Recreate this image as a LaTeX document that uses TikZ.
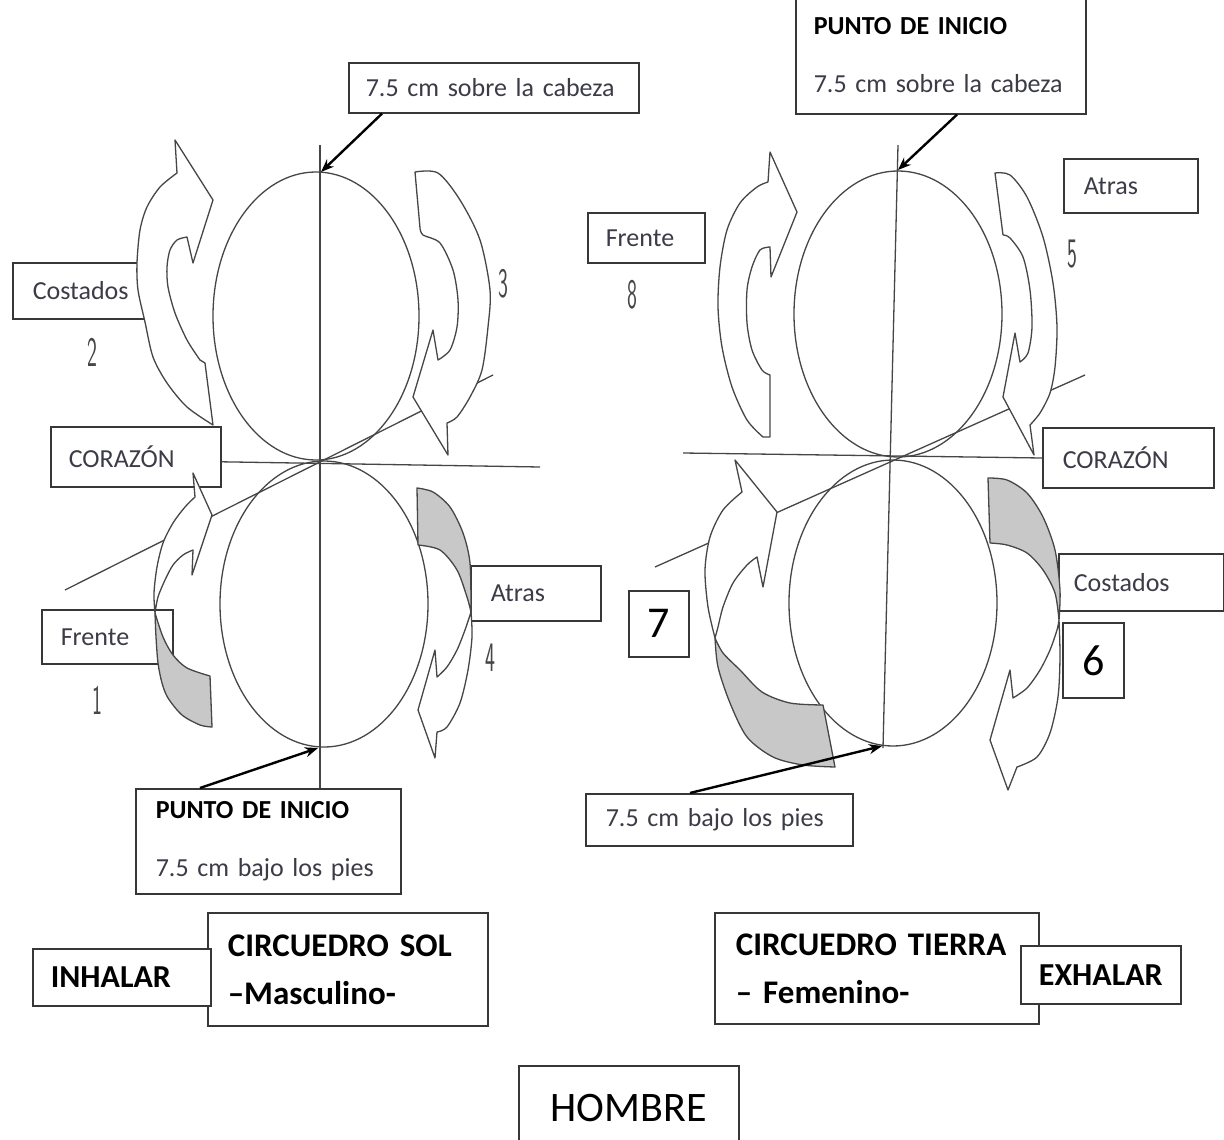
\documentclass[tikz,border=0pt]{standalone}
\usepackage{fontspec}
\usepackage{graphicx}
\setmainfont{Carlito}
\usetikzlibrary{arrows.meta}
\definecolor{linec}{RGB}{70,70,70}
\definecolor{boxc}{RGB}{55,55,55}
\definecolor{txtc}{RGB}{60,60,72}
\definecolor{shade}{RGB}{200,200,200}
\newcommand\fntA{\fontsize{26}{30}\selectfont}
\newcommand\fntB{\bfseries\fontsize{33}{42}\selectfont}
\newcommand\fntC{\fontsize{44}{48}\selectfont}
\newcommand\cdig[1]{\scalebox{0.5}[1]{\sffamily\fontsize{42}{42}\selectfont #1}}
\tikzset{
  lbl/.style={draw=boxc, line width=1.6pt, fill=white, inner sep=0pt, anchor=north west, text=txtc, font=\fntA},
  lblL/.style={lbl, align=left, inner xsep=#1, inner ysep=0pt},
  ribbon/.style={draw=linec, line width=1.3pt, fill=white, line join=round},
  ribbongray/.style={ribbon, fill=shade},
  guide/.style={draw=linec, line width=1.3pt},
  ptr/.style={draw=black, line width=2.4pt, -{Stealth[length=13pt,width=10pt]}},
  digit/.style={text=linec, inner sep=0pt},
}
\begin{document}
\begin{tikzpicture}[x=1pt,y=-1pt]
\useasboundingbox[fill=white] (0,0) rectangle (1224,1140);

% ---------------- label boxes, left figure ----------------
\node[lblL=17pt, text width=256pt, minimum height=50pt] (topL) at (348,62) {7.5 cm sobre la cabeza};
\node[lblL=20pt, text width=93pt, minimum height=56pt] (costL) at (12,262) {Costados};
\node[lblL=18pt, text width=134pt, minimum height=60pt] (corL) at (50,426) {CORAZÓN};
\node[lblL=19pt, text width=93pt, minimum height=54pt] (frenL) at (41,609) {Frente};
\node[lblL=20pt, text width=90pt, minimum height=55pt] (atrL) at (470,565) {Atras};
\node[lblL=20pt, text width=225pt, minimum height=105pt] (startL) at (135,788)
  {\textbf{\color{black}PUNTO DE INICIO}\\[28pt]7.5 cm bajo los pies};
\node[lblL=20pt, text width=240pt, minimum height=113pt, text=black, font=\fntB] (solL) at (207,912)
  {CIRCUEDRO SOL\\[6pt]–Masculino-};
\node[lblL=18pt, text width=142pt, minimum height=57pt, text=black, font=\bfseries\fontsize{32}{36}\selectfont] (inh) at (32,948) {INHALAR};

% ---------------- label boxes, right figure ----------------
\node[lblL=18pt, text width=254pt, minimum height=117pt] (startR) at (795,-4)
  {\textbf{\color{black}PUNTO DE INICIO}\\[28pt]7.5 cm sobre la cabeza};
\node[lblL=20pt, text width=94pt, minimum height=54pt] (atrR) at (1063,158) {Atras};
\node[lblL=18pt, text width=81pt, minimum height=50pt] (frenR) at (587,212) {Frente};
\node[lblL=20pt, text width=131pt, minimum height=60pt] (corR) at (1042,427) {CORAZÓN};
\node[lblL=15pt, text width=135pt, minimum height=57pt] (costR) at (1058,553) {Costados};
\node[lbl, minimum width=61pt, minimum height=75pt, text=black, font=\fntC] (six) at (1062,622) {6};
\node[lbl, minimum width=60pt, minimum height=66pt, text=black, font=\fntC] (seven) at (628,590) {7};
\node[lblL=20pt, text width=227pt, minimum height=52pt] (botR) at (585,793) {7.5 cm bajo los pies};
\node[lblL=21pt, text width=282pt, minimum height=111pt, text=black, font=\fntB] (tierra) at (714,912)
  {CIRCUEDRO TIERRA\\[6pt]– Femenino-};
\node[lbl, minimum width=160pt, minimum height=58pt, text=black, font=\bfseries\fontsize{32}{36}\selectfont] (exh) at (1020,945) {EXHALAR};
\node[lbl, minimum width=220pt, minimum height=84pt, text=black, font=\fontsize{42}{46}\selectfont] (hombre) at (518,1065) {HOMBRE};

% ---------------- guide lines and ellipses, left ----------------
\coordinate (Lv) at (320,145);
\draw[guide] (Lv) -- (Lv |- startL.north);
\coordinate (LhE) at (540,467);
\draw[guide] ([yshift=-5pt]corL.east) -- (LhE);
\coordinate (LdA) at (65,590);
\coordinate (LdB) at (493,375);
\draw[guide] (LdA) -- (LdB);
\draw[guide] (316,316) circle [x radius=103, y radius=144];
\draw[guide] (324,604) circle [x radius=104, y radius=143];

% ---------------- guide lines and ellipses, right ----------------
\coordinate (Rv1) at (898,145);
\coordinate (Rv2) at (883,748);
\draw[guide] (Rv1) -- (Rv2);
\coordinate (RhA) at (683,453);
\draw[guide] (RhA) -- ([yshift=-31pt]corR.north west);
\coordinate (RdA) at (655,567);
\coordinate (RdB) at (1085,375);
\draw[guide] (RdA) -- (RdB);
\draw[guide] (898,314) circle [x radius=104, y radius=143];
\draw[guide] (893,603) circle [x radius=104, y radius=143];

% ---------------- curved arrows, left ----------------
% arrow 2
\filldraw[ribbon] plot[smooth] coordinates {(213,425) (187,407) (167,383) (153,357) (145,322) (138,290) (137,263) (140,230) (147,207) (160,187) (177,173)}
  -- (175,140) -- (213,200) -- (193,263) -- (187,237)
  -- plot[smooth] coordinates {(187,237) (177,240) (170,250) (167,267) (168,287) (175,313) (187,340) (200,360)}
  -- (205,363) -- cycle;
% arrow 3
\filldraw[ribbon] plot[smooth] coordinates {(415,172) (438,173) (460,200) (480,240) (490,290) (488,327) (482,370) (470,397) (457,417) (447,423)}
  -- (448,455) -- (413,397) -- (433,330) -- (438,360)
  -- plot[smooth] coordinates {(438,360) (450,350) (457,327) (458,300) (453,270) (440,243) (423,235) (420,228)}
  -- cycle;
% arrow 1
\filldraw[ribbongray] plot[smooth] coordinates {(155,613) (163,637) (173,655) (187,668) (210,676)}
  -- (212,727)
  -- plot[smooth] coordinates {(212,727) (200,725) (182,715) (168,698) (162,683) (158,663) (156,637) (155,613)} -- cycle;
\filldraw[ribbon] plot[smooth] coordinates {(155,613) (154,593) (157,567) (163,543) (173,523) (185,507) (195,497)}
  -- (193,473) -- (212,515) -- (192,575) -- (193,550)
  -- plot[smooth] coordinates {(193,550) (183,555) (173,565) (165,580) (158,597) (155,613)} -- cycle;
% arrow 4
\filldraw[ribbongray] plot[smooth] coordinates {(417,488) (433,492) (450,507) (463,533) (470,563) (471,612)}
  -- plot[smooth] coordinates {(471,612) (467,597) (457,570) (440,550) (418,545)} -- cycle;
\filldraw[ribbon] plot[smooth] coordinates {(471,612) (472,637) (468,670) (460,703) (447,727) (437,732)}
  -- (435,758) -- (418,710) -- (435,650) -- (437,677)
  -- plot[smooth] coordinates {(437,677) (447,667) (457,650) (465,630) (471,612)} -- cycle;

% ---------------- curved arrows, right ----------------
% arrow 8
\filldraw[ribbon] plot[smooth] coordinates {(763,437) (747,420) (732,387) (722,347) (718,307) (720,267) (727,230) (740,203) (757,187) (768,182)}
  -- (770,152) -- (797,212) -- (771,277) -- (770,247)
  -- plot[smooth] coordinates {(770,247) (760,250) (752,267) (747,290) (747,323) (752,350) (762,370) (770,375)}
  -- (770,437) -- cycle;
% arrow 5
\filldraw[ribbon] plot[smooth] coordinates {(995,173) (1010,175) (1027,197) (1043,237) (1053,283) (1057,327) (1055,367) (1050,393) (1040,413) (1030,425)}
  -- (1034,455) -- (1003,397) -- (1015,333) -- (1020,362)
  -- plot[smooth] coordinates {(1020,362) (1028,353) (1032,327) (1030,290) (1023,257) (1010,238) (1003,235)}
  -- cycle;
% arrow 7
\filldraw[ribbongray] plot[smooth] coordinates {(715,638) (718,667) (730,703) (747,737) (773,757) (803,765) (835,767)}
  -- (823,705)
  -- plot[smooth] coordinates {(823,705) (790,703) (762,692) (740,670) (723,653) (715,638)} -- cycle;
\filldraw[ribbon] plot[smooth] coordinates {(715,638) (708,607) (705,570) (710,537) (723,510) (742,492)}
  -- (735,460) -- (777,512) -- (763,587) -- (757,557)
  -- plot[smooth] coordinates {(757,557) (747,565) (733,583) (723,607) (718,627) (715,638)} -- cycle;
% arrow 6
\filldraw[ribbongray] plot[smooth] coordinates {(988,478) (1007,480) (1027,493) (1043,517) (1055,550) (1060,590) (1059,620)}
  -- plot[smooth] coordinates {(1059,620) (1055,593) (1043,570) (1027,553) (1007,545) (990,543)} -- cycle;
\filldraw[ribbon] plot[smooth] coordinates {(1059,620) (1060,657) (1058,697) (1050,733) (1037,757) (1017,767)}
  -- (1008,790) -- (990,740) -- (1010,670) -- (1013,698)
  -- plot[smooth] coordinates {(1013,698) (1027,688) (1040,670) (1050,650) (1057,630) (1059,620)} -- cycle;

% ---------------- pointer arrows ----------------
\coordinate (Ltop) at (321,172);
\coordinate (Lbot) at (318,748);
\coordinate (Rtop) at (898,170);
\coordinate (Rbot) at (882,746);
\draw[ptr] ([xshift=34pt]topL.south west) -- (Ltop);
\draw[ptr] ([xshift=65pt]startL.north west) -- (Lbot);
\draw[ptr] ([xshift=162pt]startR.south west) -- (Rtop);
\draw[ptr] ([xshift=105pt]botR.north west) -- (Rbot);

% ---------------- step numbers ----------------
\node[digit] (d1) at (97,700) {\cdig{1}};
\node[digit] (d2) at (92,352) {\cdig{2}};
\node[digit] (d3) at (503,284) {\cdig{3}};
\node[digit] (d4) at (490,658) {\cdig{4}};
\node[digit] (d5) at (1072,254) {\cdig{5}};
\node[digit] (d8) at (632,295) {\cdig{8}};
\end{tikzpicture}
\end{document}
